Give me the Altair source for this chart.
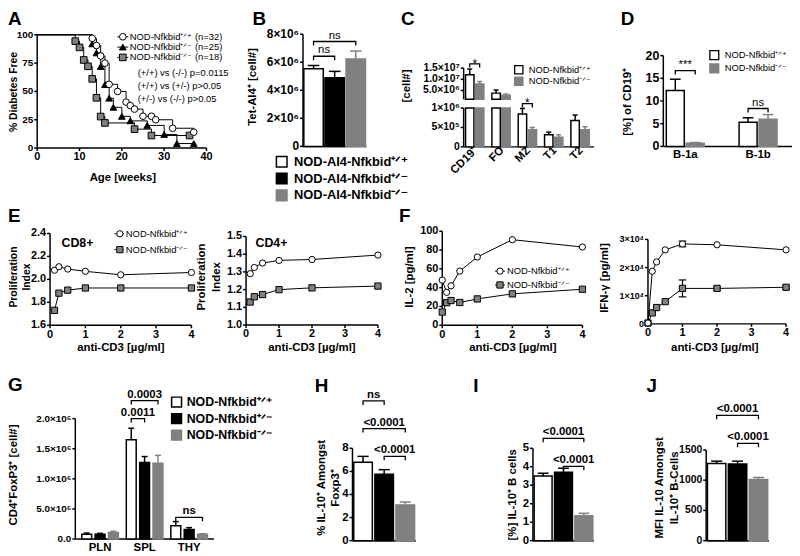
import altair as alt
import pandas as pd

# ---------------- data ----------------
SUP_WT, SUP_HET, SUP_KO = "⁺ᐟ⁺", "⁺ᐟ⁻", "⁻ᐟ⁻"

# A  Kaplan-Meier
A_wt_weeks = [13, 14, 15, 16, 17, 19, 21, 22, 23, 25, 27, 28, 32, 37]
A_wt_free = [96.9, 90.6, 81.3, 75.0, 56.3, 50.0, 40.6, 37.5, 34.4, 28.1, 28.1, 25.0, 17.5, 14.0]
A_het_weeks = [13, 14, 15, 16, 17, 18, 20, 22, 26, 30, 33, 37]
A_het_free = [92, 84, 72, 56, 44, 36, 28, 24, 20, 12, 4, 4]
A_ko_weeks = [9, 10, 11, 12, 13, 14, 15, 16, 23, 27, 36]
A_ko_free = [94.4, 88.9, 77.8, 72.2, 61.1, 44.4, 27.8, 22.2, 16.7, 11.1, 11.1]
A_legend = ["NOD-Nfkbid" + SUP_WT + " (n=32)", "NOD-Nfkbid" + SUP_HET + " (n=25)", "NOD-Nfkbid" + SUP_KO + " (n=18)"]
A_pvals = ["(+/+) vs (-/-) p=0.0115", "(+/+) vs (+/-) p>0.05", "(+/-) vs (-/-) p>0.05"]
A_xticks = [0, 10, 20, 30, 40]
A_yticks = [0, 25, 50, 75, 100]

# B
B_legend = ["NOD-AI4-Nfkbid" + SUP_WT, "NOD-AI4-Nfkbid" + SUP_HET, "NOD-AI4-Nfkbid" + SUP_KO]
B_values = [[5.53e6], [4.89e6], [6.24e6]]
B_errors = [[0.24e6], [0.46e6], [0.56e6]]
B_yticks = [0, 2e6, 4e6, 6e6, 8e6]
B_ylabels = ["0", "2×10⁶", "4×10⁶", "6×10⁶", "8×10⁶"]

# C
C_groups = ["CD19⁺", "FO", "MZ", "T1", "T2"]
C_wt = [1.2e7, 3.8e6, 8.5e5, 3.1e5, 6.8e5]
C_ko = [7.9e6, 2.9e6, 4.4e5, 2.5e5, 4.4e5]
C_wt_err = [2.6e6, 1.4e6, 1.4e5, 0.7e5, 1.4e5]
C_ko_err = [1.1e6, 0.5e6, 0.6e5, 0.6e5, 0.8e5]
C_up_ticks = [5e6, 1e7, 1.5e7]
C_up_labels = ["5.0×10⁶", "1.0×10⁷", "1.5×10⁷"]
C_lo_ticks = [0, 5e5, 1e6]
C_lo_labels = ["0", "5×10⁵", "1×10⁶"]
TWO_LEGEND = ["NOD-Nfkbid" + SUP_WT, "NOD-Nfkbid" + SUP_KO]

# D
D_groups = ["B-1a", "B-1b"]
D_wt = [12.3, 5.3]
D_ko = [0.7, 6.0]
D_wt_err = [2.5, 1.0]
D_ko_err = [0.15, 1.0]
D_yticks = [0, 5, 10, 15, 20]

# E
E_dose = [0.125, 0.25, 0.5, 1, 2, 4]
E_cd8_wt = [2.08, 2.11, 2.09, 2.07, 2.04, 2.06]
E_cd8_ko = [1.73, 1.88, 1.906, 1.925, 1.925, 1.925]
E_cd4_wt = [1.29, 1.325, 1.35, 1.365, 1.37, 1.395]
E_cd4_ko = [1.13, 1.16, 1.172, 1.2, 1.21, 1.22]
E1_yticks = [1.6, 1.8, 2.0, 2.2, 2.4]
E2_yticks = [1.0, 1.1, 1.2, 1.3, 1.4, 1.5]
DOSE_TICKS = [0, 1, 2, 3, 4]

# F
F_dose = [0, 0.125, 0.25, 0.5, 1, 2, 4]
F_il2_wt = [48, 35, 42, 57.6, 72.6, 91, 83.2]
F_il2_ko = [14, 24, 26.3, 24.2, 28, 33.4, 38.3]
F_ifn_wt = [300, 18700, 22000, 26300, 28400, 28100, 26300]
F_ifn_wt_err = [0, 0, 0, 0, 1000, 0, 0]
F_ifn_ko = [300, 3900, 5800, 7900, 12600, 12600, 13000]
F_ifn_ko_err = [0, 0, 0, 0, 3000, 600, 600]
F1_yticks = [0, 20, 40, 60, 80, 100]
F2_yticks = [0, 1e4, 2e4, 3e4]
F2_ylabels = ["0", "1×10⁴", "2×10⁴", "3×10⁴"]

# G
G_groups = ["PLN", "SPL", "THY"]
G_legend = ["NOD-Nfkbid" + SUP_WT, "NOD-Nfkbid" + SUP_HET, "NOD-Nfkbid" + SUP_KO]
G_wt = [0.8e5, 1.65e6, 2.2e5]
G_het = [0.8e5, 1.27e6, 1.6e5]
G_ko = [1.1e5, 1.26e6, 0.8e5]
G_wt_err = [0.2e5, 0.19e6, 0.7e5]
G_het_err = [0.15e5, 0.1e6, 0.3e5]
G_ko_err = [0.2e5, 0.13e6, 0.1e5]
G_yticks = [0, 5e5, 1e6, 1.5e6, 2e6]
G_ylabels = ["0.0", "5.0×10⁵", "1.0×10⁶", "1.5×10⁶", "2.0×10⁶"]

# H, I, J
H_values = [[6.8], [5.75], [3.1]]
H_errors = [[0.5], [0.4], [0.25]]
H_yticks = [0, 2, 4, 6, 8]
I_values = [[3.5], [3.7], [1.35]]
I_errors = [[0.15], [0.22], [0.13]]
I_yticks = [0, 1, 2, 3, 4, 5]
J_values = [[1275], [1270], [1010]]
J_errors = [[40], [45], [35]]
J_yticks = [0, 500, 1000, 1500]

# ---------------- layout helpers ----------------
W, H = 792, 548
OX, OY = 8, 8
FONT = "Liberation Sans"
GRAY = "#808080"
FILL3 = ["white", "black", GRAY]
STROKE3 = ["black", "black", GRAY]
ECOL3 = ["black", "black", GRAY]
FILL2 = ["white", GRAY]
STROKE2 = ["black", GRAY]
ECOL2 = ["black", GRAY]
DUMMY = pd.DataFrame({"k": [0]})
AXW = 1.5


def gx(v):
    return v - OX


def gy(v):
    return v - OY


def sx(d0, d1, r0, r1):
    return alt.Scale(domain=[d0, d1], range=[gx(r0), gx(r1)], nice=False, zero=False)


def sy(d0, d1, r0, r1):
    return alt.Scale(domain=[d0, d1], range=[gy(r0), gy(r1)], nice=False, zero=False)


def fmt_labels(values, labels, fmt):
    if labels is not None:
        return labels
    return [format(v, fmt) for v in values]


def y_axis(x_img, ys, d0, d1, values, labels=None, fmt="g", size=11, tick=3, pad=1):
    dom = alt.Chart(pd.DataFrame({"a": [d0], "b": [d1]})).mark_rule(
        color="black", strokeWidth=AXW).encode(
        x=alt.value(gx(x_img)), y=alt.Y("a:Q", scale=ys, axis=None), y2="b:Q")
    tdf = pd.DataFrame({"v": values, "t": fmt_labels(values, labels, fmt)})
    ticks = alt.Chart(tdf).mark_rule(color="black", strokeWidth=AXW).encode(
        x=alt.value(gx(x_img)), x2=alt.value(gx(x_img - tick)), y=alt.Y("v:Q", scale=ys, axis=None))
    labs = alt.Chart(tdf).mark_text(align="right", baseline="middle", fontSize=size, fontWeight="bold",
                                    font=FONT, color="black").encode(
        x=alt.value(gx(x_img - tick - pad)), y=alt.Y("v:Q", scale=ys, axis=None), text="t:N")
    return [dom, ticks, labs]


def x_axis(y_img, xs, d0, d1, values=None, labels=None, fmt="g", size=11, tick=3, ticks=True,
           angle=0, pad=0.5):
    out = [alt.Chart(pd.DataFrame({"a": [d0], "b": [d1]})).mark_rule(
        color="black", strokeWidth=AXW).encode(
        y=alt.value(gy(y_img)), x=alt.X("a:Q", scale=xs, axis=None), x2="b:Q")]
    if values:
        tdf = pd.DataFrame({"v": values, "t": fmt_labels(values, labels, fmt)})
        if ticks:
            out.append(alt.Chart(tdf).mark_rule(color="black", strokeWidth=AXW).encode(
                x=alt.X("v:Q", scale=xs, axis=None), y=alt.value(gy(y_img)), y2=alt.value(gy(y_img + tick))))
        ty = y_img + (tick if ticks else 0) + pad
        if angle:
            out.append(alt.Chart(tdf).mark_text(
                align="right", baseline="middle", angle=angle, fontSize=size, fontWeight="bold",
                font=FONT, color="black", dx=2).encode(
                x=alt.X("v:Q", scale=xs, axis=None), y=alt.value(gy(ty + 3)), text="t:N"))
        else:
            out.append(alt.Chart(tdf).mark_text(
                align="center", baseline="top", fontSize=size, fontWeight="bold",
                font=FONT, color="black").encode(
                x=alt.X("v:Q", scale=xs, axis=None), y=alt.value(gy(ty)), text="t:N"))
    return out


def T(text, x, y, size=11.5, weight="bold", angle=0, align="center", baseline="middle"):
    kw = dict(text=text, fontSize=size, fontWeight=weight, align=align, baseline=baseline,
              font=FONT, color="black")
    if angle:
        kw["angle"] = angle
    return alt.Chart(DUMMY).mark_text(**kw).encode(x=alt.value(gx(x)), y=alt.value(gy(y)))


def M(x, y, shape, fill, size=40, stroke="black", sw=1.0):
    return alt.Chart(DUMMY).mark_point(shape=shape, filled=True, fill=fill, stroke=stroke,
                                       strokeWidth=sw, size=size, opacity=1).encode(
        x=alt.value(gx(x)), y=alt.value(gy(y)))


def L(x0, x1, y, sw=1.0):
    return alt.Chart(DUMMY).mark_rule(color="black", strokeWidth=sw).encode(
        x=alt.value(gx(x0)), x2=alt.value(gx(x1)), y=alt.value(gy(y)))


def bar_layers(values, errors, fills, strokes, ecols, xs, ys, step, width, base,
               vmax=None, bar_keep=None, err_keep=None):
    nser, ng = len(values), len(values[0])
    off = (nser - 1) / 2
    rows = []
    for s in range(nser):
        for g in range(ng):
            rows.append({"g": g, "s": s, "v": values[s][g], "e": errors[s][g],
                         "fill": fills[s], "stroke": strokes[s], "ecol": ecols[s]})
    df = pd.DataFrame(rows)
    bdf = df if bar_keep is None else df[df.v.apply(bar_keep)]
    edf = df if err_keep is None else df[df.v.apply(err_keep)]

    def prep(d):
        return (alt.Chart(d)
                .transform_calculate(xc=f"datum.g + (datum.s - {off}) * {step}")
                .transform_calculate(xl=f"datum.xc - {width / 2}", xr=f"datum.xc + {width / 2}",
                                     cl=f"datum.xc - {width * 0.3}", cr=f"datum.xc + {width * 0.3}",
                                     top="datum.v + datum.e", b=str(base),
                                     vb=(f"min(datum.v, {vmax})" if vmax is not None else "datum.v")))

    out = [prep(bdf).mark_bar(strokeWidth=1.5).encode(
        x=alt.X("xl:Q", scale=xs, axis=None), x2="xr:Q",
        y=alt.Y("vb:Q", scale=ys, axis=None), y2="b:Q",
        fill=alt.Fill("fill:N", scale=None), stroke=alt.Stroke("stroke:N", scale=None))]
    if len(edf):
        out.append(prep(edf).mark_rule(strokeWidth=1.5).encode(
            x=alt.X("xc:Q", scale=xs, axis=None), y=alt.Y("v:Q", scale=ys, axis=None), y2="top:Q",
            color=alt.Color("ecol:N", scale=None)))
        out.append(prep(edf).mark_rule(strokeWidth=1.5).encode(
            x=alt.X("cl:Q", scale=xs, axis=None), x2="cr:Q", y=alt.Y("top:Q", scale=ys, axis=None),
            color=alt.Color("ecol:N", scale=None)))
    return out


def bracket_layers(specs, nser, step, xs, ys, tick, size=11.5, weight="bold", dy=-3):
    off = (nser - 1) / 2
    rows, trows = [], []
    for i, (g, a, b, lev, lab) in enumerate(specs):
        xa, xb = g + (a - off) * step, g + (b - off) * step
        for o, (x, y) in enumerate([(xa, lev - tick), (xa, lev), (xb, lev), (xb, lev - tick)]):
            rows.append({"id": i, "o": o, "x": x, "y": y})
        trows.append({"x": (xa + xb) / 2, "y": lev, "t": lab})
    line = alt.Chart(pd.DataFrame(rows)).mark_line(color="black", strokeWidth=1.3).encode(
        x=alt.X("x:Q", scale=xs, axis=None), y=alt.Y("y:Q", scale=ys, axis=None),
        detail="id:N", order="o:Q")
    text = alt.Chart(pd.DataFrame(trows)).mark_text(
        fontSize=size, fontWeight=weight, baseline="alphabetic", dy=dy, font=FONT, color="black").encode(
        x=alt.X("x:Q", scale=xs, axis=None), y=alt.Y("y:Q", scale=ys, axis=None), text="t:N")
    return [line, text]


def series_layers(xv, yv, xs, ys, shape, fill, err=None, cap=0.22, interp=None, lead=None, size=40):
    out = []
    ldf = pd.DataFrame({"x": ([lead[0]] if lead else []) + list(xv),
                        "y": ([lead[1]] if lead else []) + list(yv)})
    lm = alt.Chart(ldf).mark_line(color="black", strokeWidth=1,
                                  **({"interpolate": interp} if interp else {}))
    out.append(lm.encode(x=alt.X("x:Q", scale=xs, axis=None), y=alt.Y("y:Q", scale=ys, axis=None)))
    if err is not None:
        edf = pd.DataFrame({"x": xv, "lo": [a - b for a, b in zip(yv, err)],
                            "hi": [a + b for a, b in zip(yv, err)], "e": err})
        edf = edf[edf.e > 0]
        eb = alt.Chart(edf).transform_calculate(cl=f"datum.x - {cap / 2}", cr=f"datum.x + {cap / 2}")
        out.append(eb.mark_rule(color="black", strokeWidth=1.2).encode(
            x=alt.X("x:Q", scale=xs, axis=None), y=alt.Y("lo:Q", scale=ys, axis=None), y2="hi:Q"))
        for f in ["lo", "hi"]:
            out.append(eb.mark_rule(color="black", strokeWidth=1.2).encode(
                x=alt.X("cl:Q", scale=xs, axis=None), x2="cr:Q", y=alt.Y(f + ":Q", scale=ys, axis=None)))
    out.append(alt.Chart(pd.DataFrame({"x": xv, "y": yv})).mark_point(
        shape=shape, filled=True, fill=fill, stroke="black", strokeWidth=1, size=size, opacity=1).encode(
        x=alt.X("x:Q", scale=xs, axis=None), y=alt.Y("y:Q", scale=ys, axis=None)))
    return out


layers = []

# ---------------- A ----------------
xsA, ysA = sx(0, 40, 37.5, 208.5), sy(0, 100, 146.7, 32.3)
A_parts = x_axis(146.7, xsA, 0, 40, A_xticks) + y_axis(37.5, ysA, 0, 100, A_yticks, size=10)
for wk, fr, shp, fl in [(A_ko_weeks, A_ko_free, "square", GRAY),
                        (A_het_weeks, A_het_free, "triangle-up", "black"),
                        (A_wt_weeks, A_wt_free, "circle", "white")]:
    A_parts += series_layers(wk, fr, xsA, ysA, shp, fl, interp="step-after", lead=(0, 100), size=45)
layers.append(alt.layer(*A_parts))
layers += [T("A", 8, 16.5, size=19, align="left"),
           T("% Diabetes Free", 14.5, 90, size=10.5, angle=270),
           T("Age [weeks]", 124, 177)]
for k, (shp, fl) in enumerate([("circle", "white"), ("triangle-up", "black"), ("square", GRAY)]):
    yk = 34.3 + 10.4 * k
    layers += [L(118.5, 129.5, yk), M(124, yk, shp, fl, size=45),
               T(A_legend[k], 131, yk, size=9.5, weight="normal", align="left")]
for k in range(3):
    layers.append(T(A_pvals[k], 139, 71 + 13 * k, size=9.5, weight="normal", align="left"))

# ---------------- B ----------------
xsB, ysB = sx(-1.5, 1.5, 306, 370), sy(0, 8e6, 145, 31.7)
layers.append(alt.layer(*(
    x_axis(145, xsB, -1.5, 1.5) + y_axis(306, ysB, 0, 8e6, B_yticks, B_ylabels, size=12)
    + bar_layers(B_values, B_errors, FILL3, STROKE3, ECOL3, xsB, ysB, 1, 0.92, 0)
    + bracket_layers([(0, 0, 1, 6.43e6, "ns"), (0, 0, 2, 7.48e6, "ns")], 3, 1, xsB, ysB, 2.8e5,
                     size=11.5, weight="normal"))))
layers += [T("B", 255, 16.5, size=19, align="left"),
           T("Tet-AI4⁺ [cell#]", 256, 85, angle=270)]
for k in range(3):
    yk = 160.5 + 17 * k
    layers += [M(284.5, yk, "square", FILL3[k], size=115, stroke=STROKE3[k], sw=1.5),
               T(B_legend[k], 297, yk, size=13, align="left")]

# ---------------- C (broken axis) ----------------
xsC_u, ysC_u = sx(-0.42, 4.53, 468.3, 600), sy(1e6, 1.5e7, 97.5, 66)
xsC_l, ysC_l = sx(-0.42, 4.53, 468.3, 600), sy(0, 1e6, 145.5, 106.3)
C_vals = [C_wt, C_ko]
C_errs = [C_wt_err, C_ko_err]
layers.append(alt.layer(*(
    y_axis(468.3, ysC_u, 1e6, 1.5e7, C_up_ticks, C_up_labels, size=10.5)
    + bar_layers(C_vals, C_errs, FILL2, STROKE2, ECOL2, xsC_u, ysC_u, 0.376, 0.32, 1e6,
                 bar_keep=lambda v: v > 1e6, err_keep=lambda v: v > 1e6)
    + bracket_layers([(0, 0, 1, 1.69e7, "*")], 2, 0.376, xsC_u, ysC_u, 1.6e6, size=12,
                     weight="normal", dy=4))))
layers.append(alt.layer(*(
    y_axis(468.3, ysC_l, 0, 1e6, C_lo_ticks, C_lo_labels, size=10.5)
    + x_axis(145.5, xsC_l, -0.42, 4.53, [0, 1, 2, 3, 4], C_groups, size=11.5, ticks=False, angle=315)
    + bar_layers(C_vals, C_errs, FILL2, STROKE2, ECOL2, xsC_l, ysC_l, 0.376, 0.32, 0,
                 vmax=1e6, err_keep=lambda v: v <= 1e6)
    + bracket_layers([(2, 0, 1, 1.117e6, "*")], 2, 0.376, xsC_l, ysC_l, 0.1e6, size=12,
                     weight="normal", dy=4))))
layers += [T("C", 405, 16.5, size=19, align="left"),
           T("[cell#]", 411, 84, angle=270)]
for k in range(2):
    yk = 67.5 + 11.7 * k
    layers += [M(524, yk, "square", FILL2[k], size=70, stroke=STROKE2[k], sw=1.3),
               T(TWO_LEGEND[k], 534, yk, size=9.5, weight="normal", align="left")]

# ---------------- D ----------------
xsD, ysD = sx(-0.3014, 1.466, 670, 800), sy(0, 20, 145, 53.3)
layers.append(alt.layer(*(
    y_axis(670, ysD, 0, 20, D_yticks, size=12.5)
    + x_axis(145, xsD, -0.3014, 1.466, [0, 1], D_groups, size=11.5, ticks=False, pad=3)
    + bar_layers([D_wt, D_ko], [D_wt_err, D_ko_err], FILL2, STROKE2, ECOL2, xsD, ysD, 0.274, 0.247, 0)
    + bracket_layers([(0, 0, 1, 16.7, "***"), (1, 0, 1, 8.35, "ns")], 2, 0.274, xsD, ysD, 0.87,
                     size=11.5, weight="normal"))))
layers += [T("D", 627, 16.5, size=19, align="left"),
           T("[%] of CD19⁺", 634, 100, angle=270)]
for k in range(2):
    yk = 52.8 + 13.4 * k
    layers += [M(721.5, yk, "square", FILL2[k], size=80, stroke=STROKE2[k], sw=1.3),
               T(TWO_LEGEND[k], 732, yk, size=9.5, weight="normal", align="left")]

# ---------------- E ----------------
xsE1, ysE1 = sx(0, 4, 50.5, 193.3), sy(1.6, 2.4, 325.7, 233)
xsE2, ysE2 = sx(0, 4, 248.5, 381.7), sy(1.0, 1.5, 325.5, 236)
layers.append(alt.layer(*(
    x_axis(325.7, xsE1, 0, 4, DOSE_TICKS) + y_axis(50.5, ysE1, 1.6, 2.4, E1_yticks, fmt=".1f")
    + series_layers(E_dose, E_cd8_wt, xsE1, ysE1, "circle", "white")
    + series_layers(E_dose, E_cd8_ko, xsE1, ysE1, "square", GRAY))))
layers.append(alt.layer(*(
    x_axis(325.5, xsE2, 0, 4, DOSE_TICKS) + y_axis(248.5, ysE2, 1.0, 1.5, E2_yticks, fmt=".1f")
    + series_layers(E_dose, E_cd4_wt, xsE2, ysE2, "circle", "white")
    + series_layers(E_dose, E_cd4_ko, xsE2, ysE2, "square", GRAY))))
layers += [T("E", 8, 215, size=19, align="left"),
           T("CD8+", 62, 243, size=12.5, align="left"),
           T("CD4+", 258, 243, size=12.5, align="left"),
           T("Proliferation", 14.5, 277, size=10.5, angle=270), T("Index", 27, 277, size=10.5, angle=270),
           T("Proliferation", 204, 277, angle=270), T("Index", 219, 277, angle=270),
           T("anti-CD3 [µg/ml]", 122, 348.5), T("anti-CD3 [µg/ml]", 315, 348.5)]
for k, (shp, fl) in enumerate([("circle", "white"), ("square", GRAY)]):
    yk = 233.3 + 16 * k
    layers += [L(115.5, 125, yk), M(121, yk, shp, fl),
               T(TWO_LEGEND[k], 127, yk, size=9.5, weight="normal", align="left")]

# ---------------- F ----------------
xsF1, ysF1 = sx(0, 4, 446.7, 588.3), sy(0, 100, 325.7, 230.7)
xsF2, ysF2 = sx(0, 4, 654.5, 794), sy(0, 3e4, 324.3, 239)
layers.append(alt.layer(*(
    x_axis(325.7, xsF1, 0, 4, DOSE_TICKS) + y_axis(446.7, ysF1, 0, 100, F1_yticks)
    + series_layers(F_dose, F_il2_wt, xsF1, ysF1, "circle", "white")
    + series_layers(F_dose, F_il2_ko, xsF1, ysF1, "square", GRAY))))
layers.append(alt.layer(*(
    x_axis(324.3, xsF2, 0, 4, DOSE_TICKS) + y_axis(654.5, ysF2, 0, 3e4, F2_yticks, F2_ylabels, size=9)
    + series_layers(F_dose, F_ifn_ko, xsF2, ysF2, "square", GRAY, err=F_ifn_ko_err)
    + series_layers(F_dose, F_ifn_wt, xsF2, ysF2, "circle", "white", err=F_ifn_wt_err))))
layers += [T("F", 403, 215, size=19, align="left"),
           T("IL-2 [pg/ml]", 414, 277, angle=270),
           T("IFN-γ [pg/ml]", 611, 278, angle=270),
           T("anti-CD3 [µg/ml]", 518, 348.5), T("anti-CD3 [µg/ml]", 722, 348.5)]
for k, (shp, fl) in enumerate([("circle", "white"), ("square", GRAY)]):
    yk = 271 + 14 * k
    layers += [L(500, 510, yk), M(505, yk, shp, fl),
               T(TWO_LEGEND[k], 512, yk, size=9.5, weight="normal", align="left")]

# ---------------- G ----------------
xsG, ysG = sx(-0.556, 2.556, 76, 216), sy(0, 2e6, 541.7, 420)
layers.append(alt.layer(*(
    y_axis(76, ysG, 0, 2e6, G_yticks, G_ylabels, size=10)
    + x_axis(541.7, xsG, -0.556, 2.556, [0, 1, 2], G_groups, size=11.5, ticks=False, pad=3)
    + bar_layers([G_wt, G_het, G_ko], [G_wt_err, G_het_err, G_ko_err], FILL3, STROKE3, ECOL3,
                 xsG, ysG, 0.3, 0.222, 0)
    + bracket_layers([(1, 0, 2, 2.3e6, "0.0003"), (1, 0, 1, 2.0e6, "0.0011"), (2, 0, 2, 3.6e5, "ns")],
                     3, 0.3, xsG, ysG, 6.6e4, size=11.5))))
layers += [T("G", 8, 386, size=19, align="left"),
           T("CD4⁺FoxP3⁺  [cell#]", 14.5, 477, angle=270)]
for k in range(3):
    yk = 403.3 + 16.7 * k
    layers += [M(178.3, yk, "square", FILL3[k], size=100, stroke=STROKE3[k], sw=1.5),
               T(G_legend[k], 188.5, yk, size=12.5, align="left")]

# ---------------- H, I, J ----------------
xsH, ysH = sx(-1.5, 1.5, 356, 420), sy(0, 8, 543.3, 450)
layers.append(alt.layer(*(
    x_axis(543.3, xsH, -1.5, 1.5) + y_axis(356, ysH, 0, 8, H_yticks, size=11.5)
    + bar_layers(H_values, H_errors, FILL3, STROKE3, ECOL3, xsH, ysH, 1, 0.88, 0)
    + bracket_layers([(0, 0, 1, 12.1, "ns"), (0, 0, 2, 9.7, "<0.0001"), (0, 1, 2, 7.3, "<0.0001")],
                     3, 1, xsH, ysH, 0.34))))
layers += [T("H", 318, 387.5, size=19, align="left"),
           T("% IL-10⁺ Amongst", 325, 490, angle=270), T("Foxp3⁺", 339, 490, angle=270)]

xsI, ysI = sx(-1.5, 1.5, 538.3, 600), sy(0, 5, 543.3, 450)
layers.append(alt.layer(*(
    x_axis(543.3, xsI, -1.5, 1.5) + y_axis(538.3, ysI, 0, 5, I_yticks, size=11.5)
    + bar_layers(I_values, I_errors, FILL3, STROKE3, ECOL3, xsI, ysI, 1, 0.88, 0)
    + bracket_layers([(0, 0, 2, 5.54, "<0.0001"), (0, 1, 2, 4.02, "<0.0001")],
                     3, 1, xsI, ysI, 0.21))))
layers += [T("I", 478, 387.5, size=19, align="left"),
           T("[%] IL-10⁺ B cells", 518, 497, angle=270)]

xsJ, ysJ = sx(-1.5, 1.5, 713.3, 776.7), sy(0, 1500, 543.3, 451.7)
layers.append(alt.layer(*(
    x_axis(543.3, xsJ, -1.5, 1.5) + y_axis(713.3, ysJ, 0, 1500, J_yticks, size=10.5)
    + bar_layers(J_values, J_errors, FILL3, STROKE3, ECOL3, xsJ, ysJ, 1, 0.88, 0)
    + bracket_layers([(0, 0, 2, 2073, "<0.0001"), (0, 1, 2, 1610, "<0.0001")],
                     3, 1, xsJ, ysJ, 65))))
layers += [T("J", 653, 387.5, size=19, align="left"),
           T("MFI IL-10 Amongst", 667, 490, angle=270), T("IL-10⁺ B-Cells", 682, 490, angle=270)]

chart = (alt.layer(*layers)
         .resolve_scale(x="independent", y="independent")
         .properties(width=W, height=H, padding=0, autosize=alt.AutoSizeParams(type="none"))
         .configure_view(stroke=None)
         .configure_text(font=FONT))

chart.save("out.html", embed_options={"renderer": "svg", "actions": False})
